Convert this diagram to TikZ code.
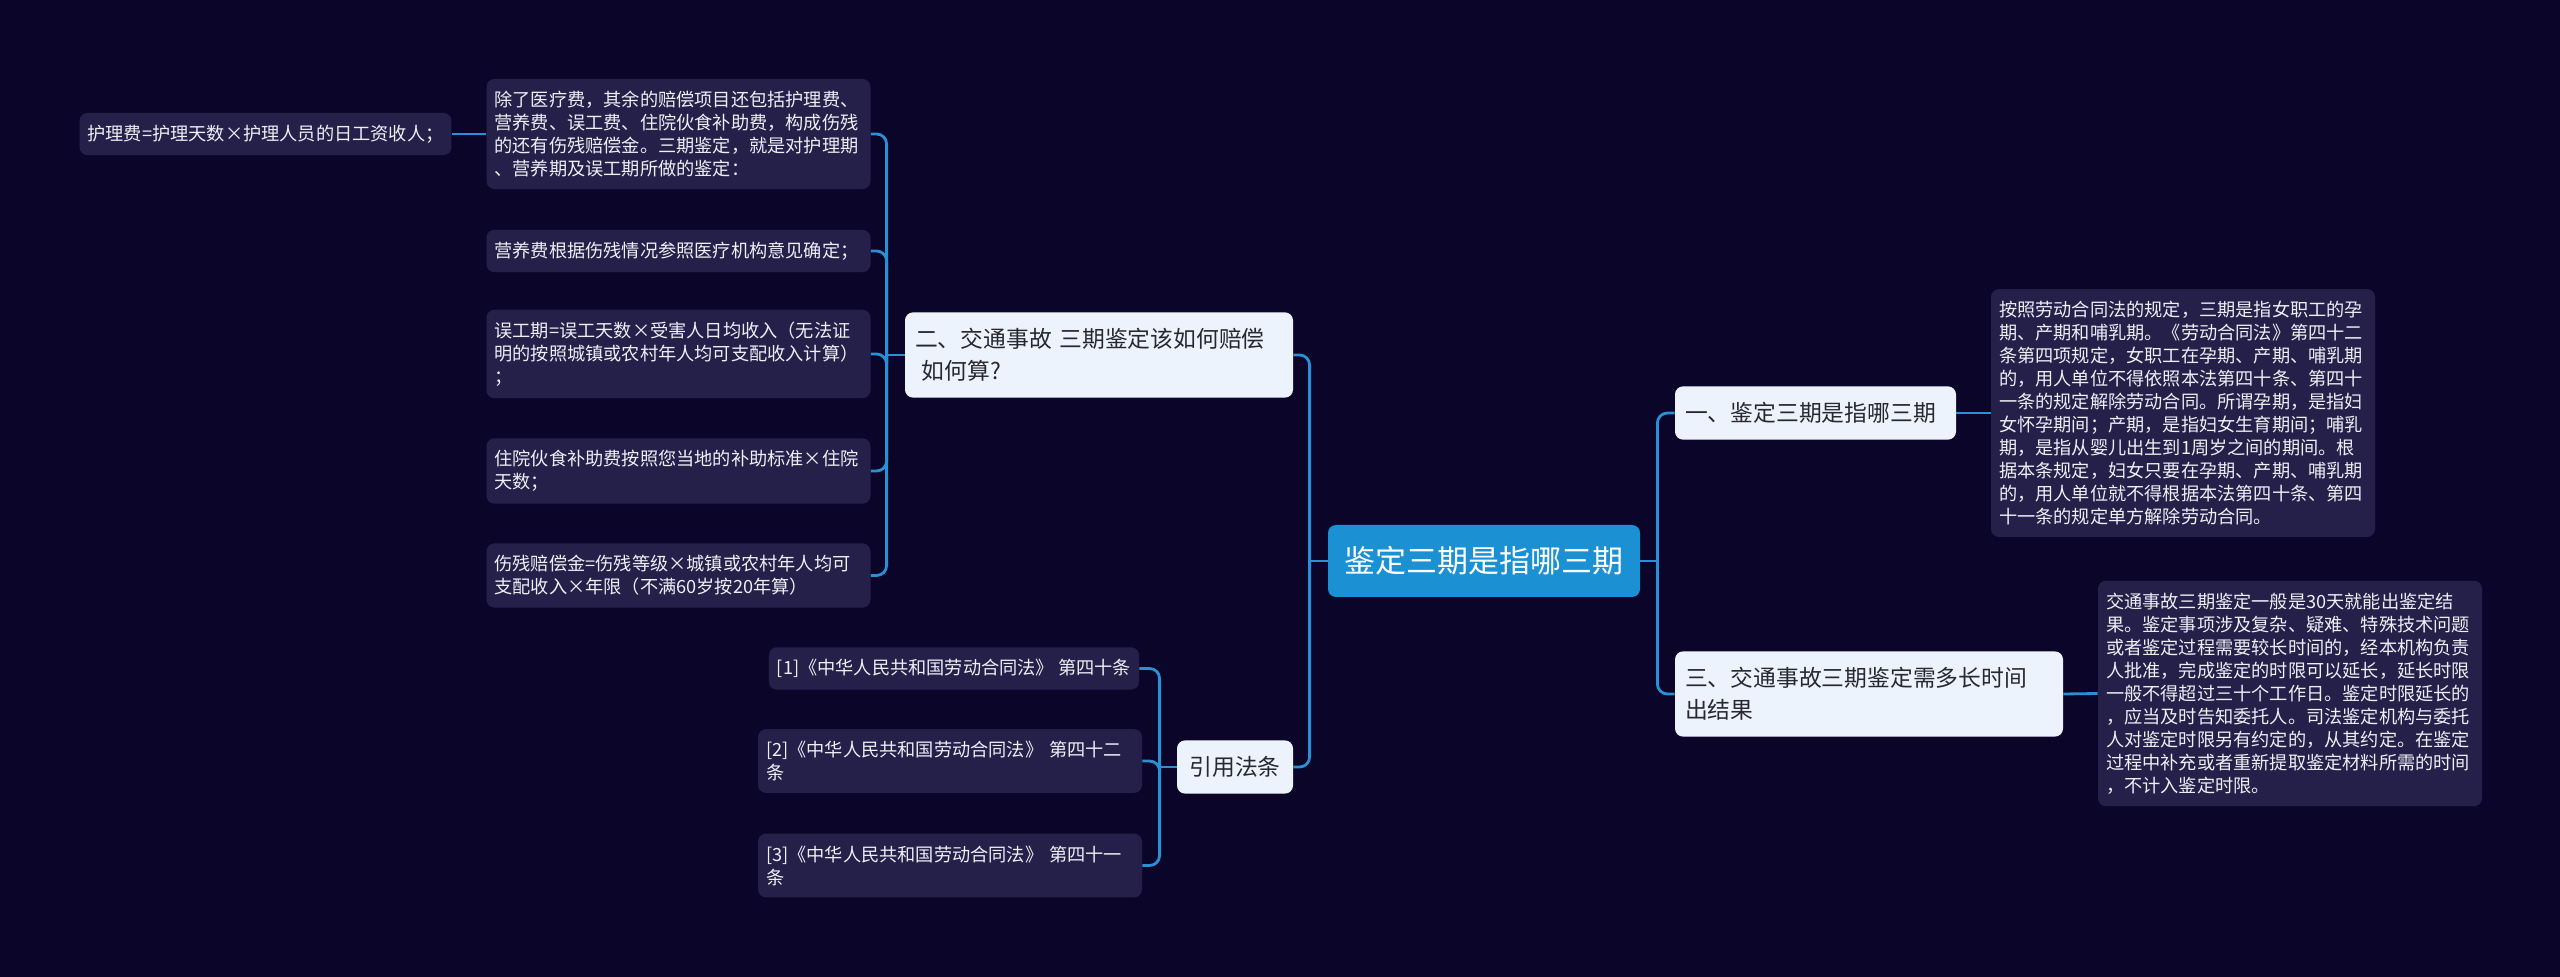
\documentclass[tikz,border=0pt]{standalone}
\usepackage{fontspec}
\setmainfont{Noto Sans CJK SC}
\usepackage{xcolor}
\usepackage{tikz}
\usetikzlibrary{positioning,calc}
\definecolor{MapBg}{RGB}{11,6,41}
\definecolor{MapLine}{RGB}{42,143,212}
\definecolor{RootBlue}{RGB}{27,145,212}
\definecolor{TopicFill}{RGB}{237,243,253}
\definecolor{LeafFill}{RGB}{37,32,74}
\definecolor{TopicText}{RGB}{40,40,48}
\definecolor{LeafText}{RGB}{238,238,245}

\begin{document}
\begin{tikzpicture}[x=0.5pt, y=-0.5pt]
	\tikzset{
		rootn/.style={rectangle, rounded corners=4pt, fill=RootBlue, text=white,
			minimum width=156pt, minimum height=36pt, inner sep=0pt,
			font=\fontsize{15.5}{18}\selectfont},
		topn/.style={rectangle, rounded corners=4pt, fill=TopicFill, text=TopicText,
			inner xsep=5pt, inner ysep=8pt, align=left, font=\fontsize{11.4}{16}\selectfont},
		leafn/.style={rectangle, rounded corners=4pt, fill=LeafFill, text=LeafText,
			inner xsep=4pt, inner ysep=6pt, align=left, font=\fontsize{9.1}{11.5}\selectfont},
		e/.style={draw=MapLine, line width=1.4pt},
		ec/.style={e, rounded corners=5pt}
	}
	\path[use as bounding box, fill=MapBg] (0,0) rectangle (2560,977);
	
	\node[rootn] (root) at (1484,561) {鉴定三期是指哪三期};
	\node[topn, text width=184pt] (t2) at (1099,355) {二、交通事故~三期鉴定该如何赔偿\\\hspace*{0.3em}如何算?};
	\node[topn, minimum width=58pt] (tr) at (1235,767) {引用法条};
	\node[topn, text width=130.5pt] (t1) at (1815.5,413) {一、鉴定三期是指哪三期};
	\node[topn, text width=184pt] (t3) at (1869,694) {三、交通事故三期鉴定需多长时间\\出结果};
	
	\node[leafn, text width=184pt] (d1) at (678.5,134) {除了医疗费，其余的赔偿项目还包括护理费、\\营养费、误工费、住院伙食补助费，构成伤残\\的还有伤残赔偿金。三期鉴定，就是对护理期\\、营养期及误工期所做的鉴定：};
	\node[leafn] (hl) at (265.5,134) {护理费=护理天数×护理人员的日工资收人；};
	\node[leafn, text width=184pt] (d2) at (678.5,251) {营养费根据伤残情况参照医疗机构意见确定；};
	\node[leafn, text width=184pt] (d3) at (678.5,354) {误工期=误工天数×受害人日均收入（无法证\\明的按照城镇或农村年人均可支配收入计算）\\；};
	\node[leafn, text width=184pt] (d4) at (678.5,471) {住院伙食补助费按照您当地的补助标准×住院\\天数；};
	\node[leafn, text width=184pt] (d5) at (678.5,575.5) {伤残赔偿金=伤残等级×城镇或农村年人均可\\支配收入×年限（不满60岁按20年算）};
	
	\node[leafn] (c1) at (954,668.5) {[1]《中华人民共和国劳动合同法》~第四十条};
	\node[leafn, text width=184pt] (c2) at (950,761) {[2]《中华人民共和国劳动合同法》~第四十二\\条};
	\node[leafn, text width=184pt] (c3) at (950,865.5) {[3]《中华人民共和国劳动合同法》~第四十一\\条};
	
	\node[leafn, text width=184pt] (r1) at (2183,413) {按照劳动合同法的规定，三期是指女职工的孕\\期、产期和哺乳期。《劳动合同法》第四十二\\条第四项规定，女职工在孕期、产期、哺乳期\\的，用人单位不得依照本法第四十条、第四十\\一条的规定解除劳动合同。所谓孕期，是指妇\\女怀孕期间；产期，是指妇女生育期间；哺乳\\期，是指从婴儿出生到1周岁之间的期间。根\\据本条规定，妇女只要在孕期、产期、哺乳期\\的，用人单位就不得根据本法第四十条、第四\\十一条的规定单方解除劳动合同。};
	\node[leafn, text width=184pt] (r2) at (2290,693.5) {交通事故三期鉴定一般是30天就能出鉴定结\\果。鉴定事项涉及复杂、疑难、特殊技术问题\\或者鉴定过程需要较长时间的，经本机构负责\\人批准，完成鉴定的时限可以延长，延长时限\\一般不得超过三十个工作日。鉴定时限延长的\\，应当及时告知委托人。司法鉴定机构与委托\\人对鉴定时限另有约定的，从其约定。在鉴定\\过程中补充或者重新提取鉴定材料所需的时间\\，不计入鉴定时限。};
	
	\coordinate (lj) at ($(root.west)+(-18,0)$);
	\coordinate (rj) at ($(root.east)+(17,0)$);
	\coordinate (aj) at ($(t2.west)+(-18,0)$);
	\coordinate (bj) at ($(tr.west)+(-17,0)$);
	
	\draw[e] (root.west) -- (lj);
	\draw[ec] (lj) |- (t2.east);
	\draw[ec] (lj) |- (tr.east);
	\draw[e] (root.east) -- (rj);
	\draw[ec] (rj) |- (t1.west);
	\draw[ec] (rj) |- (t3.west);
	
	\draw[e] (t2.west) -- (aj);
	\draw[ec] (aj) |- (d1.east);
	\draw[ec] (aj) |- (d2.east);
	\draw[ec] (aj) |- (d3.east);
	\draw[ec] (aj) |- (d4.east);
	\draw[ec] (aj) |- (d5.east);
	\draw[e] (d1.west) -- (hl.east);
	
	\draw[e] (tr.west) -- (bj);
	\draw[ec] (bj) |- (c1.east);
	\draw[ec] (bj) |- (c2.east);
	\draw[ec] (bj) |- (c3.east);
	
	\draw[e] (t1.east) -- (r1.west);
	\draw[e] (t3.east) -- (r2.west);
\end{tikzpicture}
\end{document}
